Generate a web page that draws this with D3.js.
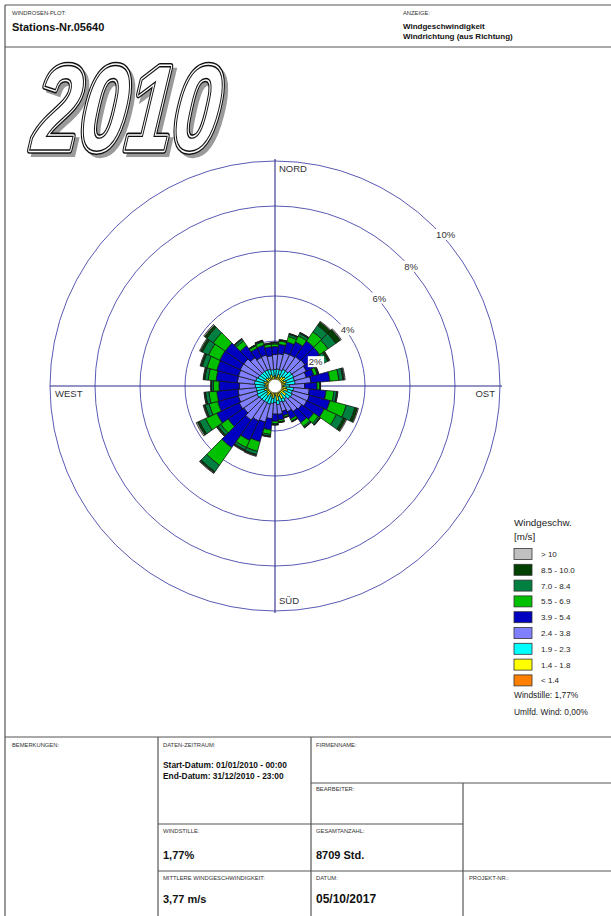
<!DOCTYPE html>
<html>
<head>
<meta charset="utf-8">
<script src="https://cdn.jsdelivr.net/npm/d3@7/dist/d3.min.js"></script>
<style>
  body { margin: 0; background: #fff; }
  svg { display: block; }
  text { font-family: "Liberation Sans", Arial, Helvetica, sans-serif; }
</style>
</head>
<body>
<svg id="plot" width="611" height="916"></svg>
<script>
// Wind direction sectors (degrees, "from" direction, clockwise from north)
const directions = [0, 10, 20, 30, 40, 50, 60, 70, 80, 90, 100, 110,
  120, 130, 140, 150, 160, 170, 180, 190, 200, 210, 220, 230,
  240, 250, 260, 270, 280, 290, 300, 310, 320, 330, 340, 350];

// Frequency (%) per sector for each wind speed class (m/s)
const pctLt14   = [0.06,0.06,0.07,0.06,0.07,0.07,0.06,0.05,0.06,0.05,0.06,0.06,0.06,0.06,0.05,0.05,0.05,0.05,0.05,0.06,0.06,0.06,0.07,0.06,0.06,0.06,0.06,0.05,0.06,0.06,0.06,0.06,0.06,0.05,0.05,0.05];
const pct14to18 = [0.40,0.34,0.46,0.36,0.44,0.50,0.38,0.48,0.40,0.33,0.45,0.52,0.40,0.55,0.36,0.58,0.44,0.60,0.38,0.50,0.42,0.34,0.46,0.40,0.36,0.44,0.33,0.42,0.38,0.46,0.35,0.44,0.40,0.36,0.48,0.38];
const pct19to23 = [0.28,0.36,0.22,0.40,0.30,0.34,0.48,0.36,0.44,0.26,0.32,0.22,0.38,0.20,0.30,0.16,0.26,0.18,0.30,0.22,0.36,0.42,0.30,0.38,0.46,0.34,0.44,0.40,0.48,0.36,0.42,0.30,0.34,0.38,0.24,0.30];
const pct24to38 = [0.66,0.68,0.78,0.72,0.78,0.72,0.62,0.55,0.70,0.68,0.70,0.78,0.72,0.64,0.68,0.48,0.42,0.44,0.52,0.68,0.82,0.90,1.02,0.86,0.88,0.85,0.82,0.72,0.76,0.80,0.88,0.90,0.74,0.62,0.66,0.62];
const pct39to54 = [0.35,0.42,0.50,0.62,0.85,0.80,0.55,0.35,0.85,0.55,0.75,0.95,0.85,0.65,0.60,0.35,0.20,0.25,0.32,0.50,0.90,0.95,1.50,0.85,1.10,0.95,0.95,0.90,0.95,1.00,1.00,1.00,0.65,0.45,0.45,0.40];
const pct55to69 = [0.12,0.15,0.25,0.30,0.50,0.45,0.30,0.15,0.40,0.12,0.35,0.75,0.60,0.25,0.20,0.10,0.07,0.08,0.10,0.20,0.45,0.35,0.95,0.40,0.55,0.40,0.35,0.25,0.35,0.45,0.55,0.65,0.25,0.12,0.15,0.12];
const pct70to84 = [0.05,0.04,0.10,0.12,0.35,0.42,0.20,0.05,0.18,0.03,0.12,0.40,0.35,0.08,0.06,0.04,0.03,0.03,0.05,0.08,0.15,0.12,0.35,0.15,0.30,0.18,0.15,0.08,0.15,0.22,0.30,0.35,0.10,0.04,0.05,0.04];
const pct85to100= [0.02,0.01,0.03,0.04,0.18,0.25,0.08,0.02,0.06,0.01,0.04,0.12,0.12,0.03,0.02,0.01,0.01,0.01,0.02,0.03,0.05,0.05,0.07,0.06,0.10,0.06,0.05,0.03,0.06,0.07,0.10,0.12,0.03,0.01,0.02,0.02];
const pctGt10   = [0.01,0.01,0.01,0.01,0.04,0.05,0.02,0.01,0.04,0.00,0.02,0.04,0.04,0.01,0.01,0.00,0.00,0.00,0.00,0.01,0.03,0.02,0.03,0.02,0.06,0.03,0.02,0.01,0.02,0.03,0.04,0.05,0.01,0.00,0.01,0.00];

// Speed classes from calmest (innermost) to strongest (outermost)
const speedLabels = ["< 1.4", "1.4 - 1.8", "1.9 - 2.3", "2.4 - 3.8", "3.9 - 5.4",
  "5.5 - 6.9", "7.0 - 8.4", "8.5 - 10.0", "> 10"];
const speedSeries = [pctLt14, pct14to18, pct19to23, pct24to38, pct39to54,
  pct55to69, pct70to84, pct85to100, pctGt10];
const speedColors = ["#ff8000", "#ffff00", "#00ffff", "#8080ff", "#0000c0",
  "#00c000", "#008040", "#004000", "#c0c0c0"];

const ringTicks = [2, 4, 6, 8, 10];
const compass = [
  { name: "NORD", angle: 0 }, { name: "OST", angle: 90 },
  { name: "SÜD", angle: 180 }, { name: "WEST", angle: 270 }
];
const calmPct = "1,77%";
const variablePct = "0,00%";

const svg = d3.select("#plot");
const frame = "#555";

// ---------- page frame ----------
const g0 = svg.append("g").attr("stroke", frame).attr("stroke-width", 1.2).attr("fill", "none");
const seg = (x1, y1, x2, y2) => g0.append("line").attr("x1", x1).attr("y1", y1).attr("x2", x2).attr("y2", y2);
seg(5, 5, 611, 5);
seg(5, 5, 5, 916);
seg(5, 47, 611, 47);
seg(5, 737, 611, 737);
seg(158, 737, 158, 916);
seg(311, 737, 311, 916);
seg(311, 783, 611, 783);
seg(158, 824, 463, 824);
seg(463, 783, 463, 916);
seg(158, 871, 611, 871);

function txt(x, y, s, size, weight, fill) {
  return svg.append("text").attr("x", x).attr("y", y).text(s)
    .attr("font-size", size).attr("font-weight", weight || "normal")
    .attr("fill", fill || "#222");
}

// ---------- header ----------
txt(12, 15, "WINDROSEN-PLOT:", 5.8, "normal", "#333");
txt(12, 31, "Stations-Nr.05640", 11, "bold", "#111");
txt(403, 15, "ANZEIGE:", 5.8, "normal", "#333");
txt(403, 29, "Windgeschwindigkeit", 8, "bold", "#111");
txt(403, 39, "Windrichtung (aus Richtung)", 8, "bold", "#111");

// ---------- year title ----------
const yearG = svg.append("g").attr("transform", "translate(31,150) skewX(-6) scale(0.69,1)");
const yearText = (dx, dy) => yearG.append("text").attr("x", dx).attr("y", dy).text("2010")
  .attr("font-size", 121).attr("font-weight", "bold").attr("font-style", "italic");
yearText(6, 4).attr("fill", "#9a9a9a").attr("stroke", "#9a9a9a").attr("stroke-width", 6);
yearText(0, 0).attr("fill", "#111").attr("stroke", "#111").attr("stroke-width", 7.5).attr("stroke-linejoin", "round");
yearText(0, 0).attr("fill", "#fff").attr("stroke", "#fff").attr("stroke-width", 4.4).attr("stroke-linejoin", "round");
yearText(0, 0).attr("fill", "#fff").attr("stroke", "#111").attr("stroke-width", 1.4);

// ---------- wind rose ----------
const cx = 275, cy = 386;
const r = d3.scaleLinear().domain([0, 10]).range([0, 225]);
const rose = svg.append("g").attr("transform", `translate(${cx},${cy})`);

rose.selectAll("circle.ring").data(ringTicks).join("circle")
  .attr("class", "ring").attr("r", d => r(d))
  .attr("fill", "none").attr("stroke", "#5a5ab4").attr("stroke-width", 1);

const rMax = r(d3.max(ringTicks));
rose.append("line").attr("x1", 0).attr("x2", 0).attr("y1", -rMax - 2).attr("y2", rMax + 2)
  .attr("stroke", "#2c2c8c").attr("stroke-width", 1.1);
rose.append("line").attr("x1", -rMax).attr("x2", rMax + 2).attr("y1", 0).attr("y2", 0)
  .attr("stroke", "#2c2c8c").attr("stroke-width", 1.1);

// stacked wedge segments per direction
const half = 5 * Math.PI / 180;
const arc = d3.arc();
const segs = [];
directions.forEach((dir, i) => {
  let acc = 0;
  speedSeries.forEach((series, k) => {
    const v = series[i];
    if (v > 0) segs.push({ dir, k, a0: acc, a1: acc + v });
    acc += v;
  });
});
rose.append("g").selectAll("path").data(segs).join("path")
  .attr("d", d => arc({
    innerRadius: r(d.a0), outerRadius: r(d.a1),
    startAngle: d.dir * Math.PI / 180 - half,
    endAngle: d.dir * Math.PI / 180 + half
  }))
  .attr("fill", d => speedColors[d.k])
  .attr("stroke", "#141414").attr("stroke-width", 0.75).attr("stroke-linejoin", "round");

// calm centre
rose.append("circle").attr("r", 6.8).attr("fill", "#fff").attr("stroke", "#555").attr("stroke-width", 0.5);

// ring percentage labels along the NE diagonal
const c45 = Math.SQRT1_2;
ringTicks.forEach(t => {
  const x = r(t) * c45 + 2, y = -r(t) * c45 + 11;
  const lab = rose.append("text").attr("x", x).attr("y", y).text(t + "%")
    .attr("font-size", 9.5).attr("fill", "#333");
  const b = lab.node().getBBox();
  rose.insert("rect", () => lab.node())
    .attr("x", b.x - 1).attr("y", b.y).attr("width", b.width + 2).attr("height", b.height)
    .attr("fill", "#fff");
});

// compass labels
compass.forEach(c => {
  let x, y, anchor = "start";
  if (c.angle === 0) { x = 4; y = -rMax + 11; }
  else if (c.angle === 180) { x = 4; y = rMax - 7; }
  else if (c.angle === 270) { x = -rMax + 5; y = 11; }
  else { x = rMax - 5; y = 11; anchor = "end"; }
  rose.append("text").attr("x", x).attr("y", y).attr("text-anchor", anchor)
    .text(c.name).attr("font-size", 9.5).attr("fill", "#333");
});

// ---------- legend ----------
txt(514, 526, "Windgeschw.", 9.8, "normal", "#222");
txt(514, 540, "[m/s]", 9.8, "normal", "#222");
const legendOrder = d3.range(speedLabels.length).reverse();
const lg = svg.append("g");
legendOrder.forEach((k, row) => {
  const y = 548.5 + row * 15.8;
  lg.append("rect").attr("x", 514).attr("y", y).attr("width", 18).attr("height", 11)
    .attr("fill", speedColors[k]).attr("stroke", "#333").attr("stroke-width", 0.8);
  lg.append("text").attr("x", 541).attr("y", y + 8.5).text(speedLabels[k])
    .attr("font-size", 8).attr("fill", "#222");
});
txt(514, 698, "Windstille: " + calmPct, 8.4, "normal", "#222");
txt(514, 715, "Umlfd. Wind: " + variablePct, 8.4, "normal", "#222");

// ---------- footer ----------
txt(12, 747, "BEMERKUNGEN:", 5.8, "normal", "#333");
txt(163, 747, "DATEN-ZEITRAUM:", 5.8, "normal", "#333");
txt(316, 747, "FIRMENNAME:", 5.8, "normal", "#333");
txt(163, 768, "Start-Datum: 01/01/2010 - 00:00", 8.4, "bold", "#111");
txt(163, 779, "End-Datum: 31/12/2010 - 23:00", 8.4, "bold", "#111");
txt(316, 791, "BEARBEITER:", 5.8, "normal", "#333");
txt(163, 833, "WINDSTILLE:", 5.8, "normal", "#333");
txt(316, 833, "GESAMTANZAHL:", 5.8, "normal", "#333");
txt(163, 859, calmPct, 11, "bold", "#111");
txt(316, 859, "8709 Std.", 11, "bold", "#111");
txt(163, 880, "MITTLERE WINDGESCHWINDIGKEIT:", 5.8, "normal", "#333");
txt(316, 880, "DATUM:", 5.8, "normal", "#333");
txt(469, 880, "PROJEKT-NR.:", 5.8, "normal", "#333");
txt(163, 903, "3,77 m/s", 11, "bold", "#111");
txt(316, 903, "05/10/2017", 12, "bold", "#111");
</script>
</body>
</html>
